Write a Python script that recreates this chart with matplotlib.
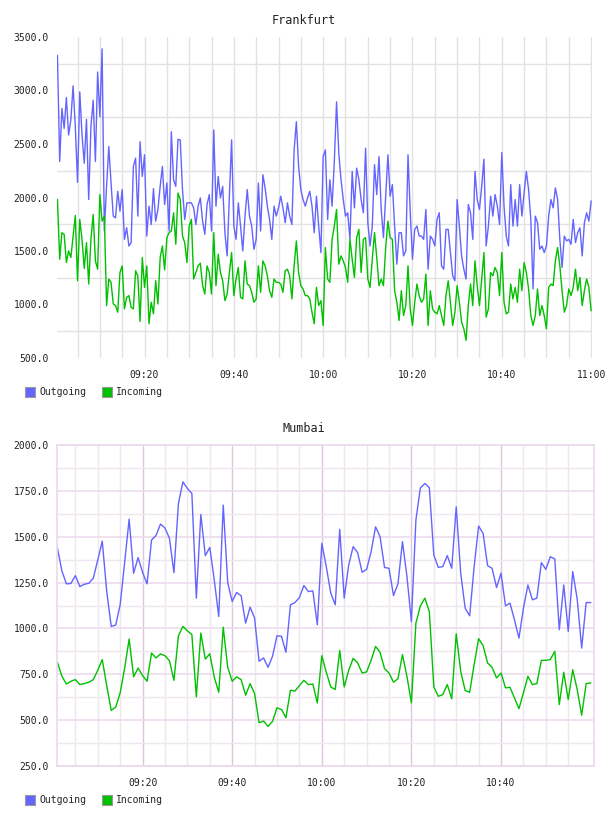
import numpy as np
import matplotlib.pyplot as plt
from matplotlib.patches import Rectangle

# sample times, minutes after 09:00
fra_t = np.arange(1, 241) * 0.5
mum_t = np.arange(1, 121)

fra_out = [
    3327, 2337, 2832, 2646, 2934, 2584, 2724, 3043, 2662, 2142,
    2987, 2584, 2321, 2730, 1981, 2662, 2909, 2337, 3173, 2755,
    3389, 1687, 2104, 2476, 2135, 1826, 1810, 2058, 1872, 2074,
    1609, 1717, 1547, 1578, 2290, 2368, 1826, 2522, 2197, 2399,
    1640, 1919, 1748, 2083, 1779, 1888, 2104, 2290, 1934, 2135,
    1687, 2615, 2166, 2104, 2544, 2538, 2074, 1795, 1950, 1950,
    1950, 1903, 1748, 1919, 1996, 1779, 1656, 1934, 2027, 1687,
    2631, 1919, 2197, 1996, 2104, 1671, 1454, 2012, 2538, 1733,
    1609, 1950, 1733, 1501, 1826, 2074, 1826, 1733, 1516, 1609,
    2135, 1687, 2213, 2089, 1919, 1795, 1609, 1919, 1826, 1903,
    2012, 1903, 1764, 1950, 1826, 1748, 2445, 2708, 2290, 2074,
    1981, 1919, 1996, 2058, 1919, 1671, 2012, 1733, 1485, 2383,
    2445, 1795, 2166, 1919, 2337, 2894, 2414, 2166, 1981, 1826,
    1857, 1609, 2244, 1903, 2275, 2166, 1981, 1857, 2461, 1764,
    1547, 1733, 2306, 2027, 2383, 1888, 1625, 2012, 2399, 2012,
    2120, 1733, 1377, 1671, 1671, 1454, 1501, 2399, 1857, 1423,
    1702, 1733, 1640, 1640, 1609, 1888, 1330, 1640, 1609, 1547,
    1795, 1857, 1361, 1330, 1702, 1702, 1485, 1268, 1222, 1981,
    1733, 1454, 1330, 1238, 1934, 1857, 1609, 2244, 1981, 1888,
    2104, 2358, 1547, 1733, 2012, 1826, 2027, 1919, 1748, 2420,
    1919, 1640, 1547, 2120, 1733, 1981, 1733, 2120, 1826, 2043,
    2244, 2074, 1795, 1145, 1826, 1764, 1516, 1547, 1485, 1547,
    1826, 1981, 1903, 2089, 1981, 1609, 1346, 1640, 1594, 1609,
    1563, 1795, 1578, 1671, 1717, 1454, 1764, 1857, 1779, 1965,
]
fra_in = [
    1981, 1423, 1671, 1656, 1392, 1501, 1439, 1640, 1832, 1222,
    1795, 1609, 1337, 1578, 1191, 1609, 1841, 1408, 1330, 2027,
    1779, 1826, 990, 1238, 1207, 1005, 990, 928, 1299, 1361,
    959, 1067, 1083, 974, 959, 1315, 1268, 841, 1439, 1160,
    1361, 820, 1021, 913, 1222, 1005, 1439, 1547, 1324, 1625,
    1671, 1687, 1857, 1563, 2042, 1981, 1640, 1578, 1392, 1733,
    1795, 1238, 1299, 1361, 1386, 1176, 1098, 1361, 1299, 1098,
    1671, 1176, 1470, 1299, 1222, 1036, 1098, 1299, 1485, 1083,
    1238, 1346, 1067, 1052, 1408, 1191, 1176, 1114, 1021, 1052,
    1361, 1114, 1408, 1361, 1268, 1129, 1067, 1238, 1207, 1207,
    1191, 1114, 1315, 1330, 1268, 1052, 1361, 1594, 1299, 1176,
    1145, 1083, 1083, 1052, 928, 820, 1160, 990, 1036, 804,
    1532, 1238, 1207, 1609, 1733, 1888, 1377, 1454, 1408, 1346,
    1207, 1609, 1423, 1253, 1625, 1702, 1299, 1609, 1625, 1238,
    1160, 1423, 1671, 1439, 1176, 1238, 1176, 1532, 1779, 1625,
    1609, 1129, 1021, 851, 1129, 897, 990, 1361, 959, 804,
    1021, 1191, 1083, 1021, 1052, 1284, 804, 1129, 959, 928,
    913, 990, 897, 804, 1083, 1222, 1021, 804, 928, 1176,
    1021, 835, 773, 665, 990, 1191, 990, 1408, 1176, 990,
    1238, 1485, 882, 959, 1299, 1268, 1346, 1299, 1083, 1485,
    1021, 913, 928, 1191, 1052, 1160, 1021, 1330, 1129, 1392,
    1299, 1145, 897, 804, 897, 1145, 897, 990, 897, 773,
    1160, 1191, 1176, 1408, 1532, 1361, 1129, 928, 990, 1145,
    1083, 1160, 1330, 1129, 1253, 990, 1129, 1238, 1160, 944,
]
mum_out = [
    1437, 1313, 1243, 1245, 1288, 1228, 1241, 1246, 1274, 1373,
    1476, 1201, 1011, 1018, 1129, 1360, 1596, 1301, 1386, 1306,
    1243, 1482, 1507, 1569, 1547, 1491, 1304, 1681, 1799, 1763,
    1736, 1165, 1621, 1397, 1442, 1264, 1065, 1672, 1250, 1147,
    1196, 1178, 1029, 1116, 1056, 821, 839, 788, 848, 960,
    957, 870, 1129, 1141, 1168, 1234, 1201, 1205, 1020, 1464,
    1337, 1192, 1129, 1540, 1165, 1346, 1446, 1413, 1306, 1322,
    1418, 1554, 1500, 1332, 1328, 1179, 1243, 1473, 1283, 1038,
    1591, 1766, 1790, 1768, 1400, 1333, 1337, 1397, 1328, 1663,
    1301, 1110, 1069, 1337, 1558, 1518, 1342, 1328, 1223, 1301,
    1123, 1138, 1047, 947, 1110, 1237, 1156, 1165, 1359, 1322,
    1391, 1379, 993, 1237, 984, 1310, 1160, 893, 1141, 1141,
]
mum_in = [
    815, 739, 697, 712, 721, 694, 699, 707, 721, 772,
    830, 688, 553, 571, 649, 784, 942, 736, 784, 743,
    712, 866, 839, 861, 851, 824, 717, 960, 1011, 987,
    966, 627, 975, 833, 862, 734, 652, 1007, 788, 712,
    736, 721, 636, 699, 645, 486, 495, 466, 493, 567,
    558, 513, 663, 658, 688, 717, 694, 697, 594, 851,
    761, 681, 667, 880, 681, 772, 837, 812, 757, 763,
    826, 902, 870, 781, 757, 707, 726, 857, 739, 594,
    1029, 1123, 1165, 1092, 681, 630, 639, 694, 616, 971,
    766, 661, 652, 803, 944, 906, 812, 788, 730, 757,
    676, 679, 621, 562, 649, 739, 694, 699, 826, 826,
    830, 875, 585, 761, 612, 775, 667, 527, 699, 703,
]

OUT_C = '#6464ff'
IN_C = '#00c000'
W, H = 608, 816

plt.rcParams['font.family'] = 'DejaVu Sans Mono'


def hhmm(m):
    return '%02d:%02d' % (9 + m // 60, m % 60)


def style(ax, yticks, ygrid, xmajor, xminor, grid_major, grid_minor):
    ax.set_yticks(yticks)
    ax.set_yticklabels(['%.1f' % v for v in yticks])
    ax.set_yticks(ygrid, minor=True)
    ax.set_xticks(xmajor)
    ax.set_xticklabels([hhmm(m) for m in xmajor])
    ax.set_xticks(xminor, minor=True)
    ax.tick_params(which='both', length=0, labelsize=7, colors='#222222')
    ax.tick_params(axis='y', pad=6)
    ax.tick_params(axis='x', pad=9)
    ax.set_axisbelow(True)


def legend(ypix):
    for x0, c, label in [(25, OUT_C, 'Outgoing'), (102, IN_C, 'Incoming')]:
        fig.patches.append(Rectangle((x0 / W, 1 - (ypix + 5) / H), 10 / W, 10 / H,
                                     transform=fig.transFigure, fc=c, ec='#999999', lw=0.8))
        fig.text((x0 + 14) / W, 1 - ypix / H, label, fontsize=7, va='center',
                 color='#222222')


fig = plt.figure(figsize=(W / 100, H / 100), dpi=100)

# Frankfurt
ax1 = fig.add_axes([57 / W, 1 - 358 / H, 535 / W, 321 / H])
ax1.plot(fra_t, fra_out, color=OUT_C, lw=1.0)
ax1.plot(fra_t, fra_in, color=IN_C, lw=1.0)
ax1.set_xlim(0.4, 120.2)
ax1.set_ylim(500, 3500)
style(ax1, np.arange(500, 3501, 500), np.arange(750, 3500, 500),
      np.arange(20, 121, 20), np.arange(5, 121, 5), None, None)
ax1.grid(which='minor', color='#e2e2e2', lw=1.0)
ax1.grid(which='major', axis='x', color='#e2e2e2', lw=1.0)
for s in ax1.spines.values():
    s.set_visible(False)
fig.text(0.5, 1 - 20 / H, 'Frankfurt', ha='center', va='center', fontsize=8.5,
         color='#222222')
legend(392)

# Mumbai
ax2 = fig.add_axes([57 / W, 1 - 766 / H, 537 / W, 321 / H])
ax2.plot(mum_t, mum_out, color=OUT_C, lw=1.0)
ax2.plot(mum_t, mum_in, color=IN_C, lw=1.0)
ax2.set_xlim(0.9, 120.75)
ax2.set_ylim(250, 2000)
style(ax2, np.arange(250, 2001, 250), np.arange(375, 2000, 250),
      np.arange(20, 101, 20), np.arange(5, 116, 5), None, None)
ax2.grid(which='major', axis='x', color='#dcc6dc', lw=1.0)
ax2.grid(which='major', axis='y', color='#ecdcec', lw=1.2)
ax2.grid(which='minor', color='#efe6ef', lw=1.0)
for s in ax2.spines.values():
    s.set_color('#ecd8ec')
    s.set_linewidth(1.2)
fig.text(0.5, 1 - 429 / H, 'Mumbai', ha='center', va='center', fontsize=8.5,
         color='#222222')
legend(800)

fig.savefig('out.png', dpi=100)
